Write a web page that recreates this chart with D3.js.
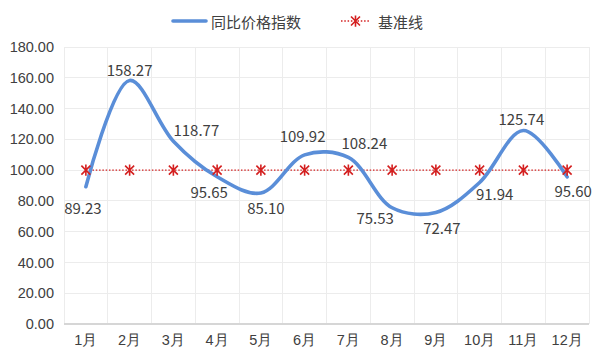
<!DOCTYPE html>
<html><head><meta charset="utf-8">
<script src="https://cdn.jsdelivr.net/npm/d3@7"></script>
<style>body{margin:0;background:#fff;} svg{display:block;font-family:"Noto Sans CJK SC","Noto Sans",sans-serif;}</style>
</head><body><svg id="c" width="600" height="360"></svg>
<script>
const categories = ["1月","2月","3月","4月","5月","6月","7月","8月","9月","10月","11月","12月"];
const indexValues = [89.23,158.27,118.77,95.65,85.10,109.92,108.24,75.53,72.47,91.94,125.74,95.60];
const baseValues = [100,100,100,100,100,100,100,100,100,100,100,100];
const yTicks = [0,20,40,60,80,100,120,140,160,180];
const seriesNames = ["同比价格指数","基准线"];
// label offsets (dx, dy) relative to each point, in px
const labelOffsets = [[-3,21],[0,-11],[23,-12],[-8,15],[5,14],[-2,-19],[16,-15],[-17,10],[6,15],[15,11],[-2,-12],[6,14]];

const svg = d3.select("#c");
const m = {l:64, r:11, t:47, b:36};
const W = 600, H = 360;
const x = d3.scaleBand().domain(categories).range([m.l, W-m.r]);
const y = d3.scaleLinear().domain([0,180]).range([H-m.b, m.t]);
const cx = d => x(d) + x.bandwidth()/2;
const text = "#404040";

// horizontal grid
svg.append("g").selectAll("line").data(yTicks.slice(1)).join("line")
  .attr("x1", m.l).attr("x2", W-m.r).attr("y1", d=>y(d)).attr("y2", d=>y(d))
  .attr("stroke", "#ececec").attr("stroke-width", 1).attr("shape-rendering","crispEdges");
// vertical grid
const vx = categories.map(c => x(c)).concat([W-m.r]);
svg.append("g").selectAll("line").data(vx).join("line")
  .attr("x1", d=>d).attr("x2", d=>d).attr("y1", m.t).attr("y2", H-m.b)
  .attr("stroke", "#ececec").attr("stroke-width", 1).attr("shape-rendering","crispEdges");
// bottom axis line
svg.append("line").attr("x1", m.l).attr("x2", W-m.r).attr("y1", y(0)).attr("y2", y(0))
  .attr("stroke", "#d6d6d6").attr("stroke-width", 1.3).attr("shape-rendering","crispEdges");

// y tick labels
const yAxis = d3.axisLeft(y).tickValues(yTicks).tickFormat(d3.format(".2f")).tickSize(0).tickPadding(10);
const ya = svg.append("g").attr("transform", `translate(${m.l},0)`).call(yAxis);
ya.select(".domain").remove();
ya.selectAll("text").attr("fill", text).style("font-size","14.5px").style("font-family","inherit");

// x labels
const xAxis = d3.axisBottom(x).tickSize(0).tickPadding(11);
const xa = svg.append("g").attr("transform", `translate(0,${H-m.b})`).call(xAxis);
xa.select(".domain").remove();
xa.selectAll("text").attr("fill", text).style("font-size","14.5px").style("font-family","inherit");

// baseline series
const base = d3.line().x((d,i)=>cx(categories[i])).y(d=>y(d));
svg.append("path").attr("d", base(baseValues)).attr("fill","none")
  .attr("stroke","#d42020").attr("stroke-width",1.3).attr("stroke-dasharray","1.5,1.8");

// index series
const line = d3.line().x((d,i)=>cx(categories[i])).y(d=>y(d)).curve(d3.curveCatmullRom.alpha(0.5));
svg.append("path").attr("d", line(indexValues)).attr("fill","none")
  .attr("stroke","#5a8ed8").attr("stroke-width",3.6).attr("stroke-linecap","round");

// asterisk markers
function star(g, px, py, s) {
  const p = `M${px-s},${py-s}L${px+s},${py+s}M${px-s},${py+s}L${px+s},${py-s}M${px},${py-s*1.25}L${px},${py+s*1.25}`;
  g.append("path").attr("d", p).attr("stroke","#d42020").attr("stroke-width",1.6).attr("fill","none");
}
const mg = svg.append("g");
baseValues.forEach((v,i)=> star(mg, cx(categories[i]), y(v), 4.5));

// data labels
svg.append("g").selectAll("text").data(indexValues).join("text")
  .attr("x",(d,i)=>cx(categories[i]) + labelOffsets[i][0])
  .attr("y",(d,i)=>y(d) + labelOffsets[i][1])
  .attr("text-anchor","middle").attr("dominant-baseline","central")
  .attr("fill", text).style("font-size","15px")
  .text(d=>d3.format(".2f")(d));

// legend
const lg = svg.append("g");
lg.append("line").attr("x1",173).attr("x2",206).attr("y1",21).attr("y2",21)
  .attr("stroke","#5a8ed8").attr("stroke-width",3.6).attr("stroke-linecap","round");
lg.append("text").attr("x",211).attr("y",21).attr("dominant-baseline","central")
  .attr("fill",text).style("font-size","15px").text(seriesNames[0]);
lg.append("line").attr("x1",341).attr("x2",370).attr("y1",21).attr("y2",21)
  .attr("stroke","#d42020").attr("stroke-width",1.3).attr("stroke-dasharray","1.5,1.8");
star(lg, 355.5, 21, 4.5);
lg.append("text").attr("x",378).attr("y",21).attr("dominant-baseline","central")
  .attr("fill",text).style("font-size","15px").text(seriesNames[1]);
</script></body></html>
